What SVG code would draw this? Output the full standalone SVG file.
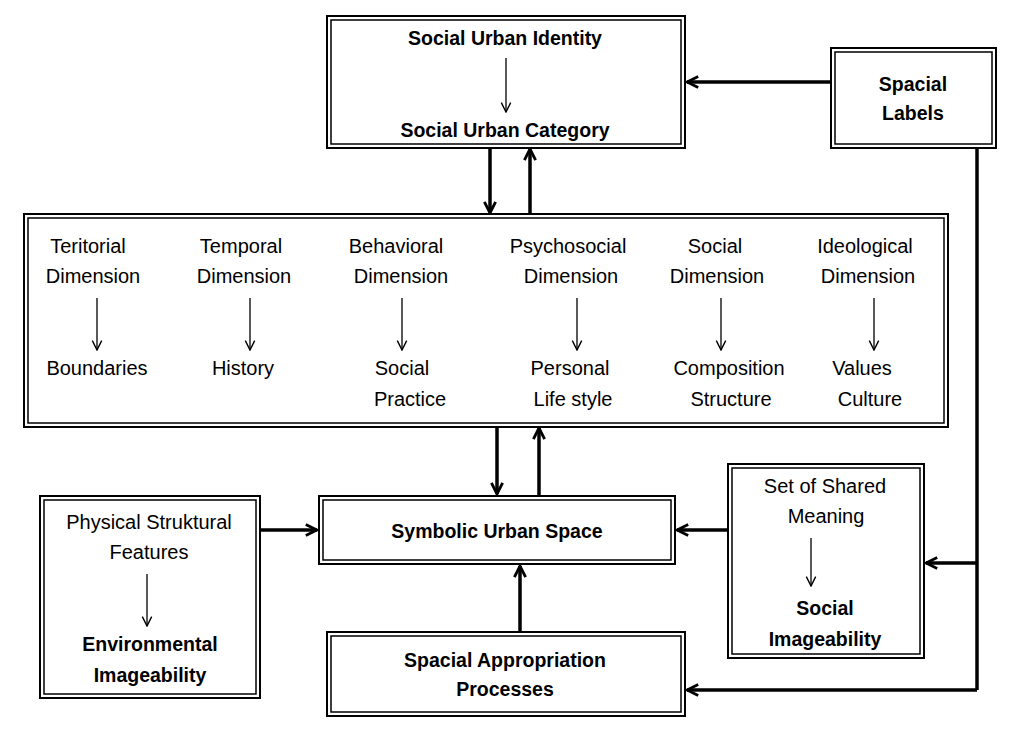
<svg xmlns="http://www.w3.org/2000/svg" width="1014" height="744" viewBox="0 0 1014 744">
<style>
.o{fill:#fff;stroke:#000;stroke-width:2}
.i{fill:none;stroke:#000;stroke-width:1.5}
text{font-family:"Liberation Sans",Arial,sans-serif;font-size:20px;text-anchor:middle;fill:#000}
.b{font-weight:bold;font-size:19.5px}
.c{stroke:#000;stroke-width:3.5;fill:none;marker-end:url(#h)}
.t{stroke:#000;stroke-width:1.3;fill:none;marker-end:url(#s)}
</style>
<defs>
<marker id="h" viewBox="0 0 10 10" refX="9" refY="5" markerWidth="4" markerHeight="4" orient="auto" markerUnits="strokeWidth"><path d="M1,1 L9,5 L1,9" fill="none" stroke="#000" stroke-width="2"/></marker>
<marker id="s" viewBox="0 0 10 10" refX="9" refY="5" markerWidth="9" markerHeight="9" orient="auto" markerUnits="strokeWidth"><path d="M1,1 L9,5 L1,9" fill="none" stroke="#000" stroke-width="1.2"/></marker>
</defs>
<g id="connectors">
<path class="c" d="M831,82 H687"/>
<path class="c" d="M490,148 V213"/>
<path class="c" d="M530,214 V149"/>
<path class="c" d="M497,427 V494"/>
<path class="c" d="M539,496 V428"/>
<path class="c" d="M260,530 H317"/>
<path class="c" d="M728,530 H677"/>
<path class="c" d="M520,632 V566"/>
<path stroke="#000" stroke-width="3.5" fill="none" d="M977,148 V690"/>
<path class="c" d="M977,563 H926"/>
<path class="c" d="M977,690 H687"/>
</g>
<g id="identity">
<rect class="o" x="327" y="16" width="358" height="132"/><rect class="i" x="331" y="20" width="350" height="124"/>
<text class="b" x="505" y="45">Social Urban Identity</text>
<path class="t" d="M506,58 V112"/>
<text class="b" x="505" y="137">Social Urban Category</text>
</g>
<g id="labels">
<rect class="o" x="831" y="48" width="165" height="100"/><rect class="i" x="835" y="52" width="157" height="92"/>
<text class="b" x="913" y="91">Spacial</text><text class="b" x="913" y="120">Labels</text>
</g>
<g id="dimensions">
<rect class="o" x="24" y="214" width="924" height="213"/><rect class="i" x="28" y="218" width="916" height="205"/>
<text x="88" y="253">Teritorial</text><text x="93" y="283">Dimension</text><path class="t" d="M97,298 V350"/><text x="97" y="375">Boundaries</text>
<text x="241" y="253">Temporal</text><text x="244" y="283">Dimension</text><path class="t" d="M250,298 V350"/><text x="243" y="375">History</text>
<text x="396" y="253">Behavioral</text><text x="401" y="283">Dimension</text><path class="t" d="M402,298 V350"/><text x="402" y="375">Social</text><text x="410" y="406">Practice</text>
<text x="568" y="253">Psychosocial</text><text x="571" y="283">Dimension</text><path class="t" d="M577,298 V350"/><text x="570" y="375">Personal</text><text x="573" y="406">Life style</text>
<text x="715" y="253">Social</text><text x="717" y="283">Dimension</text><path class="t" d="M721,298 V350"/><text x="729" y="375">Composition</text><text x="731" y="406">Structure</text>
<text x="865" y="253">Ideological</text><text x="868" y="283">Dimension</text><path class="t" d="M874,298 V350"/><text x="862" y="375">Values</text><text x="870" y="406">Culture</text>
</g>
<g id="symbolic">
<rect class="o" x="319" y="496" width="356" height="68"/><rect class="i" x="323" y="500" width="348" height="60"/>
<text class="b" x="497" y="538">Symbolic Urban Space</text>
</g>
<g id="physical">
<rect class="o" x="40" y="496" width="220" height="202"/><rect class="i" x="44" y="500" width="212" height="194"/>
<text x="149" y="529">Physical Struktural</text><text x="149" y="559">Features</text>
<path class="t" d="M147,574 V626"/>
<text class="b" x="150" y="651">Environmental</text><text class="b" x="150" y="682">Imageability</text>
</g>
<g id="shared">
<rect class="o" x="728" y="464" width="196" height="194"/><rect class="i" x="732" y="468" width="188" height="186"/>
<text x="825" y="493">Set of Shared</text><text x="826" y="523">Meaning</text>
<path class="t" d="M811,538 V586"/>
<text class="b" x="825" y="615">Social</text><text class="b" x="825" y="646">Imageability</text>
</g>
<g id="appropriation">
<rect class="o" x="327" y="632" width="358" height="84"/><rect class="i" x="331" y="636" width="350" height="76"/>
<text class="b" x="505" y="667">Spacial Appropriation</text><text class="b" x="505" y="696">Processes</text>
</g>
</svg>
